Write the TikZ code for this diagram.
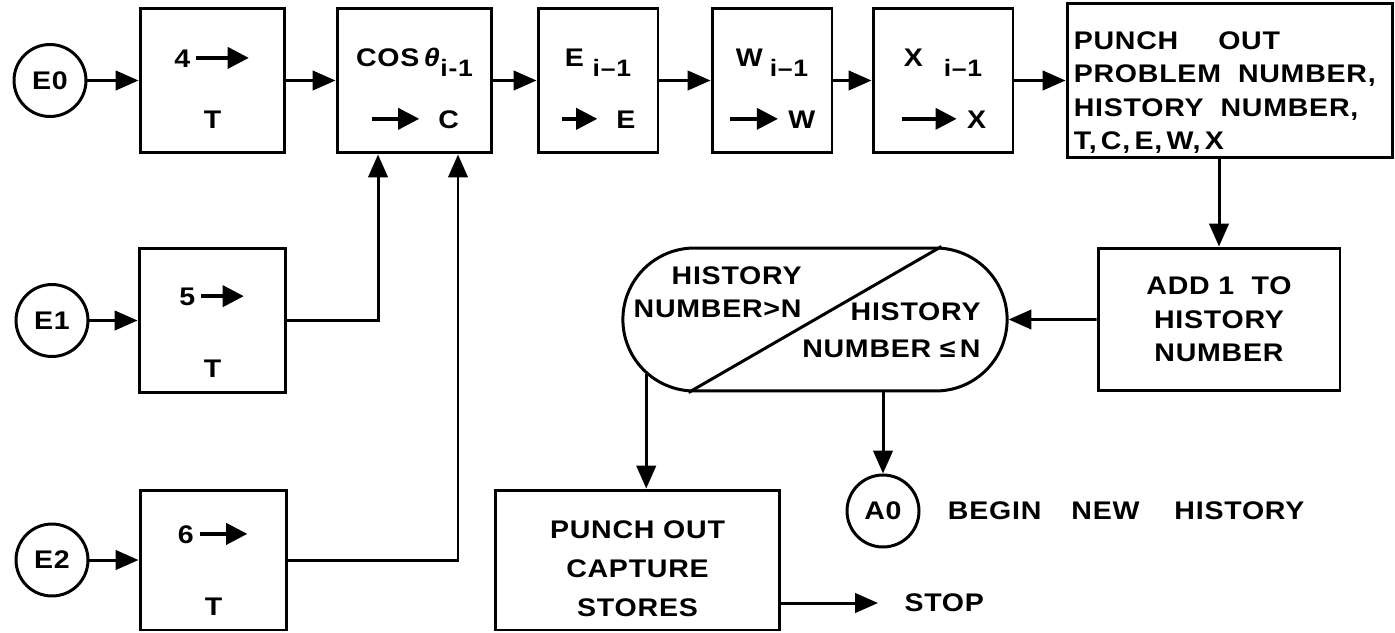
\documentclass[tikz,border=0pt]{standalone}
\usepackage{fontspec}
\setmainfont[LetterSpace=3,FakeStretch=1.12]{Liberation Sans}
\usetikzlibrary{arrows.meta,positioning,shapes.misc}
\newcommand\harr[1][0.95cm]{\tikz[baseline=-0.7ex]\draw[line width=2pt,-{Triangle[length=12pt,width=12pt]}] (0,0) -- (#1,0);}
\newcommand\sub[1]{\raisebox{-0.7ex}{\fontsize{13.5}{16}\selectfont #1}}
\newcommand\lift[1]{\rule{0pt}{#1}}

\begin{document}
\begin{tikzpicture}[x=0.02cm, y=-0.02cm, line width=1.7pt,
    font=\fontsize{14.5}{19}\selectfont\bfseries,
    blk/.style={draw, line width=1.7pt, minimum height=2.9cm, align=center, inner sep=2pt},
    ent/.style={draw, circle, line width=1.7pt, minimum size=1.44cm, inner sep=0pt},
    flow/.style={line width=1.7pt, -{Triangle[length=13pt,width=11pt]}},
    lbl/.style={inner sep=0pt}]
    \useasboundingbox (0,0) rectangle (1395,632);
    \node[ent] (e0) at (50,80.5) {E0};
    \node[blk, minimum width=2.9cm] (t4) at (212.5,80.5) {\lift{20pt}4\,\harr[1.05cm]\\[16pt]T};
    \node[blk, minimum width=3.1cm] (cosb) at (414.5,80.5) {\lift{20pt}COS\,\textit{θ}\sub{i-1}\\[16pt]\harr\ \ C};
    \node[blk, minimum width=2.4cm] (eb) at (598,80.5) {\lift{20pt}E\hspace{5pt}\sub{i–1}\\[16pt]\harr[0.7cm]\ \ E};
    \node[blk, minimum width=2.4cm] (wb) at (772,80.5) {\lift{20pt}W\hspace{4pt}\sub{i–1}\\[16pt]\harr\ W};
    \node[blk, minimum width=2.8cm] (xb) at (943,80.5) {\lift{20pt}X\hspace{12pt}\sub{i–1}\\[16pt]\harr[1.1cm]\ X};
    \node[blk, minimum width=6.52cm, text width=6.25cm, align=left] (pun) at (1230,80.5) {\lift{24pt}PUNCH\hspace{0.8cm}OUT\\PROBLEM\ \ NUMBER,\\HISTORY\ \ NUMBER,\\T,\,C,\,E,\,W,\,X};
    \node[ent] (e1) at (52,320.5) {E1};
    \node[blk, minimum width=2.94cm] (t5) at (212.5,320.5) {\lift{24pt}5\,\harr[0.85cm]\\[22pt]T};
    \node[ent] (e2) at (52,560) {E2};
    \node[blk, minimum width=2.94cm, minimum height=2.8cm] (t6) at (213.5,560) {\lift{22pt}6\,\harr\\[22pt]T};
    \node[draw, rounded rectangle, line width=1.7pt, minimum width=7.92cm, minimum height=2.86cm] (dec) at (815,319.5) {};
    \node[lbl, align=right, anchor=east] (gt) at (803,292) {HISTORY\\NUMBER>N};
    \node[lbl, align=right, anchor=east] (le) at (982,330) {HISTORY\\[2pt]NUMBER\ ≤\,N};
    \draw ([xshift=2.53cm]dec.north) -- ([xshift=-2.53cm]dec.south);
    \node[blk, minimum width=4.84cm, minimum height=2.86cm] (add) at (1219,319.5) {ADD\ 1\ \ TO\\HISTORY\\NUMBER};
    \node[blk, minimum width=5.7cm, minimum height=2.8cm] (cap) at (637.5,560) {\lift{20pt}PUNCH OUT\\[3pt]CAPTURE\\[3pt]STORES};
    \node[ent] (a0) at (883,511) {A0};
    \node[lbl, right=0.52cm of a0] (begin) {BEGIN\hspace{0.6cm}NEW\hspace{0.7cm}HISTORY};
    \node[lbl, anchor=west] (stop) at (903,603) {STOP};
    \draw[flow] (e0) -- (t4);
    \draw[flow] (t4) -- (cosb);
    \draw[flow] (cosb) -- (eb);
    \draw[flow] (eb) -- (wb);
    \draw[flow] (wb) -- (xb);
    \draw[flow] (xb) -- (pun);
    \draw[flow] (e1) -- (t5);
    \draw[flow] (e2) -- (t6);
    \draw[flow] (t5.east) -| ([xshift=-0.73cm]cosb.south);
    \draw[flow] (t6.east) -| ([xshift=0.87cm]cosb.south);
    \draw[flow] (pun.south -| add.north) -- (add.north);
    \draw[flow] (add) -- (dec);
    \draw[flow] (dec.198.4) -- (dec.198.4 |- cap.north);
    \draw[flow] (dec.south -| a0.north) -- (a0.north);
    \draw[flow, shorten >=0.5cm] (cap.east |- stop.west) -- (stop.west);
\end{tikzpicture}
\end{document}
